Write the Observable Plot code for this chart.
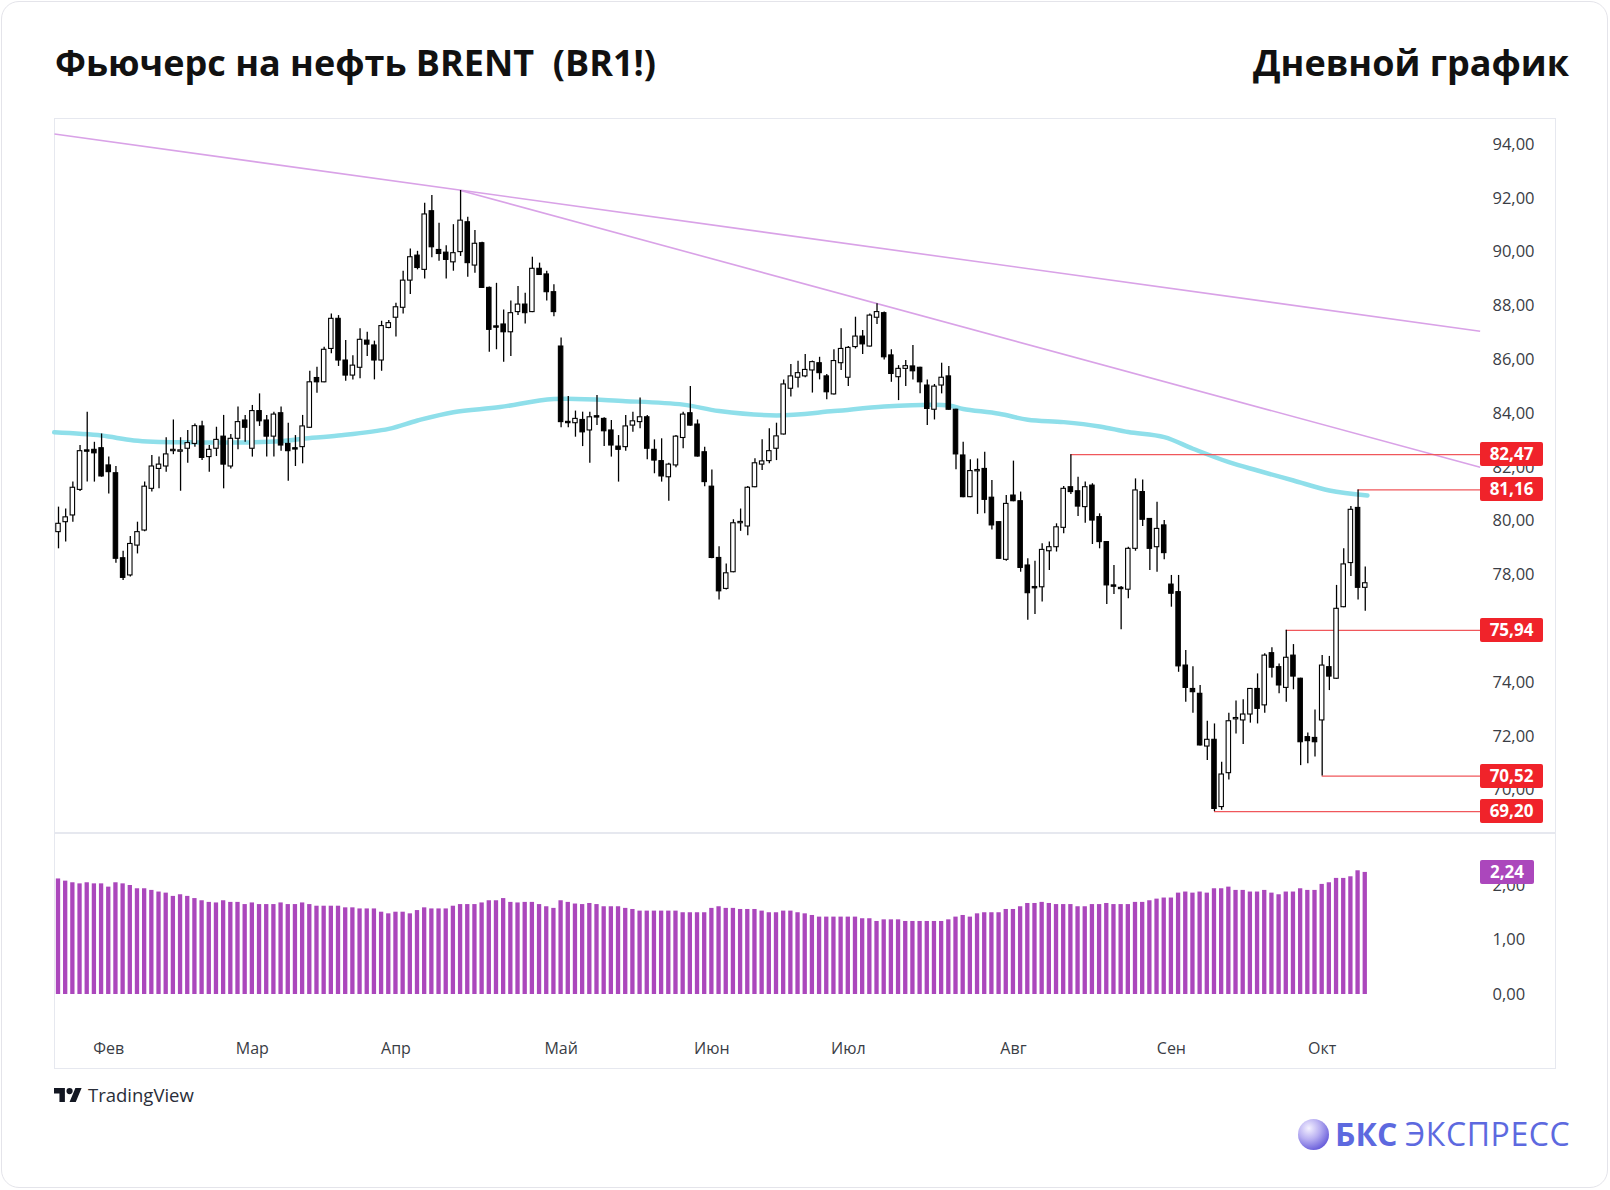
<!DOCTYPE html>
<html><head><meta charset="utf-8">
<script src="https://cdn.jsdelivr.net/npm/d3@7"></script>
<script src="https://cdn.jsdelivr.net/npm/@observablehq/plot@0.6"></script>
<style>
html,body{margin:0;padding:0;background:#fff;}
#page{position:relative;width:1610px;height:1190px;overflow:hidden;font-family:"Open Sans","Noto Sans",sans-serif;background:#fff;}
.card{position:absolute;left:1px;top:1px;width:1607px;height:1187px;border:1.5px solid #e4e4ea;border-radius:18px;box-sizing:border-box;}
.title{position:absolute;top:39px;font-weight:700;font-size:36px;color:#111;line-height:48px;white-space:pre;}
.frame{position:absolute;left:54px;top:118px;width:1502px;height:951px;border:1.5px solid #e6e8ef;box-sizing:border-box;}
.sep{position:absolute;left:54px;top:832px;width:1502px;height:2px;background:#e6e8ef;}
.panel{position:absolute;left:54px;}
.tag{position:absolute;left:1480px;height:24px;line-height:24px;color:#fff;font-weight:700;font-size:17px;text-align:center;border-radius:2px;font-family:"Open Sans",sans-serif;}
.tv{position:absolute;left:88px;top:1081px;font-size:18.5px;color:#2a2e39;line-height:28px;}
.bks{position:absolute;top:1112px;font-size:32px;line-height:44px;color:#5d69df;white-space:pre;}
</style></head>
<body><div id="page">
<div class="card"></div>
<div class="title" style="left:55px">Фьючерс на нефть BRENT  (BR1!)</div>
<div class="title" style="right:41px">Дневной график</div>
<div class="frame"></div>
<div class="sep"></div>
<div id="price" class="panel" style="top:118px"></div>
<div id="vol" class="panel" style="top:833px"></div>
<svg style="position:absolute;left:54px;top:1088px" width="28" height="14" viewBox="0 4 36 18"><path d="M14 22H7V11H0V4h14v18zM28 22h-8l7.5-18h8L28 22z" fill="#131722"/><circle cx="20" cy="8" r="4" fill="#131722"/></svg>
<div class="tv">TradingView</div>
<svg style="position:absolute;left:1297px;top:1118px" width="33" height="33"><defs><radialGradient id="g" cx="0.35" cy="0.3" r="0.8"><stop offset="0" stop-color="#f4f1ff"/><stop offset="0.45" stop-color="#b9b0f2"/><stop offset="1" stop-color="#5a4fd6"/></radialGradient></defs><circle cx="16.5" cy="16.5" r="15.5" fill="url(#g)"/></svg>
<div class="bks" style="left:1335px;font-weight:700;">БКС</div>
<div class="bks" style="left:1405px;letter-spacing:0.6px;">ЭКСПРЕСС</div>
</div>
<script>
// ---- data ----
const open = [79.59,79.96,80.21,81.16,82.62,82.65,82.71,82.07,81.78,78.62,
77.98,79.09,79.65,81.20,81.94,82.03,82.60,82.58,82.69,82.87,
83.52,82.38,82.69,83.14,82.03,83.06,83.74,82.69,84.09,83.74,
83.14,84.01,82.87,82.68,82.75,83.47,85.32,85.16,86.40,87.52,
85.97,85.41,85.70,86.71,86.53,85.97,87.18,87.56,87.93,88.94,
89.87,89.34,91.52,90.08,89.98,89.62,90.00,91.11,89.50,90.33,
88.67,87.21,87.31,87.02,87.77,88.05,87.77,89.38,89.17,88.51,
86.49,83.66,83.64,83.76,83.37,83.87,83.80,83.37,82.77,82.75,
83.55,83.68,83.86,82.65,82.23,81.63,82.07,83.09,84.01,83.59,
82.56,81.28,78.63,77.48,78.10,79.92,79.80,81.26,82.10,82.23,
82.69,83.22,84.92,85.33,85.38,85.60,85.87,85.38,84.71,85.87,
85.33,86.47,86.86,86.49,87.56,87.73,86.16,85.35,85.66,85.75,
85.70,85.04,84.14,85.04,85.38,84.14,82.44,80.89,81.85,81.94,
80.87,79.96,78.56,80.95,80.74,78.35,77.52,77.54,78.88,79.03,
79.75,81.26,81.11,80.52,81.32,80.15,79.22,77.58,77.49,77.45,
78.97,81.08,80.08,79.03,79.84,77.64,77.36,74.63,73.76,73.58,
71.62,71.87,69.37,70.63,72.63,72.59,72.81,73.76,73.15,75.09,
74.57,73.80,75.00,74.14,71.97,71.94,72.59,74.57,74.14,76.80,
78.44,80.49,77.52];
const high = [80.52,80.45,81.45,82.81,84.05,82.93,83.24,82.38,82.03,78.88,
79.43,79.96,81.45,82.44,82.38,83.10,83.76,83.10,83.37,83.61,
83.71,82.81,83.49,83.93,83.22,84.24,83.93,84.30,84.73,83.93,
84.05,84.24,83.64,83.18,83.93,85.57,85.72,86.46,87.70,87.64,
86.71,86.15,87.15,87.02,86.69,87.43,87.46,88.10,89.29,90.12,
90.03,91.82,92.10,91.07,90.24,91.02,92.29,91.30,90.80,90.37,
88.70,88.84,87.85,88.18,88.72,88.47,89.81,89.59,89.29,88.79,
86.81,84.63,84.09,84.05,84.05,84.67,83.84,83.74,83.18,83.93,
84.05,84.58,83.93,83.02,83.06,82.15,83.18,84.05,85.00,83.76,
82.75,81.90,79.05,78.41,80.05,80.45,81.29,82.32,83.02,83.43,
83.64,85.25,85.82,85.94,86.19,85.95,86.09,85.45,86.37,87.15,
86.49,87.58,87.09,87.70,88.08,87.77,86.37,85.78,85.97,86.53,
85.72,85.25,85.08,85.87,85.75,84.16,82.93,82.28,82.31,82.56,
81.51,79.98,80.95,82.23,81.08,78.60,78.51,79.16,79.22,79.90,
81.29,82.47,81.63,81.45,81.39,80.27,79.24,78.35,77.57,79.03,
81.57,81.53,80.10,80.70,80.02,77.98,77.98,75.19,74.59,73.89,
72.56,72.46,71.04,72.86,73.31,73.36,73.78,74.32,75.07,75.29,
74.69,75.94,75.41,74.16,72.12,72.98,75.00,74.97,77.61,78.97,
80.54,81.16,78.29];
const low = [78.97,79.22,79.96,81.10,81.45,81.45,81.63,81.01,78.43,77.79,
77.92,78.78,79.60,81.08,81.20,81.82,82.47,81.11,82.15,82.75,
82.25,81.82,82.40,81.20,81.94,82.65,82.93,82.38,83.52,82.38,
82.38,82.60,81.48,82.03,82.13,83.45,84.75,85.14,86.22,85.75,
85.20,85.25,85.29,86.12,85.25,85.57,87.15,86.84,87.70,88.42,
89.34,89.00,89.79,89.66,89.00,89.29,89.84,89.07,89.21,88.65,
86.28,86.37,85.91,86.12,87.64,87.33,87.75,89.13,88.18,87.60,
83.47,83.47,83.12,82.77,82.15,83.55,82.77,82.38,81.45,82.60,
83.30,83.43,82.28,81.76,81.45,80.74,81.98,82.69,83.53,82.38,
81.28,78.60,77.07,77.44,78.08,79.62,79.46,81.24,81.88,82.13,
82.25,83.20,84.61,84.95,85.33,84.76,85.25,84.51,84.69,85.60,
85.00,86.40,86.19,86.47,87.31,85.99,85.16,84.48,85.00,85.25,
84.73,83.55,83.76,84.73,84.12,81.91,80.87,80.87,80.25,80.27,
79.67,78.58,78.51,80.72,78.10,76.31,76.53,76.99,78.16,78.85,
79.53,80.99,80.17,79.92,79.13,78.97,76.90,77.27,75.96,77.11,
78.88,79.80,78.16,78.10,78.56,76.80,74.38,73.27,72.86,71.64,
71.10,69.20,69.25,70.38,72.09,71.70,72.49,72.46,72.86,74.17,
73.58,73.27,73.73,70.91,70.98,71.23,70.52,73.70,74.12,76.78,
77.94,77.07,76.65];
const close = [79.90,80.14,81.24,82.60,82.58,82.52,81.66,81.82,78.60,77.89,
79.15,79.59,81.28,82.03,82.10,82.48,82.62,82.60,82.90,83.53,
82.35,82.65,83.02,82.10,83.06,83.68,83.47,84.09,83.71,83.14,
83.96,82.81,82.60,82.66,83.52,85.16,85.16,86.37,87.52,85.97,
85.41,85.78,86.74,86.56,85.97,87.25,87.36,87.95,88.94,89.81,
89.41,91.40,90.18,89.93,89.71,89.96,91.17,89.59,90.31,88.67,
87.11,87.19,87.02,87.73,88.05,87.73,89.38,89.15,88.51,87.77,
83.68,83.64,83.80,83.30,83.86,83.85,83.34,82.81,82.65,83.52,
83.71,83.86,82.69,82.25,81.66,82.10,83.14,83.96,83.55,82.40,
81.45,78.63,77.39,78.06,79.92,79.94,81.24,82.15,82.22,82.60,
83.15,85.08,85.38,85.50,85.62,85.91,85.50,84.79,85.95,86.40,
86.44,86.86,86.57,87.64,87.77,86.09,85.47,85.66,85.76,85.57,
85.16,84.17,85.00,85.33,84.14,82.48,80.89,81.86,81.87,80.79,
79.84,78.60,80.64,80.74,78.26,77.32,77.50,78.93,79.03,79.77,
81.20,81.08,80.54,81.26,80.02,79.22,77.61,77.56,77.47,78.97,
81.14,80.05,78.97,79.71,78.81,77.30,74.60,73.80,73.64,71.66,
71.87,69.30,70.58,72.56,72.65,72.81,73.76,73.02,75.00,74.55,
73.89,74.92,74.22,71.78,71.82,71.78,74.63,74.22,76.74,78.39,
80.42,77.52,77.69];
// lower-panel indicator (histogram)
const indicator = [2.12,2.08,2.05,2.03,2.05,2.03,2.03,1.97,2.05,2.03,
2.00,1.94,1.94,1.91,1.88,1.86,1.80,1.83,1.80,1.76,
1.72,1.69,1.68,1.72,1.69,1.69,1.65,1.68,1.65,1.65,
1.65,1.68,1.65,1.65,1.68,1.65,1.62,1.62,1.62,1.62,
1.59,1.59,1.57,1.57,1.57,1.51,1.48,1.51,1.51,1.48,
1.54,1.59,1.57,1.57,1.57,1.62,1.65,1.65,1.65,1.68,
1.72,1.72,1.76,1.69,1.68,1.69,
1.69,1.65,1.61,1.58,1.72,1.69,1.66,1.65,1.67,1.65,
1.61,1.61,1.61,1.58,1.56,1.53,1.53,1.53,1.53,1.53,
1.53,1.50,1.50,1.50,1.50,1.58,1.61,1.58,1.58,1.56,
1.56,1.56,1.53,1.50,1.50,1.53,1.53,1.50,1.48,1.45,
1.42,1.42,1.42,1.42,1.42,1.42,1.39,1.39,1.34,1.37,
1.37,1.37,1.34,1.34,1.34,1.34,1.34,1.34,1.37,1.42,
1.45,1.42,1.48,1.50,1.50,1.50,1.56,1.56,1.61,1.67,
1.67,1.69,1.67,1.65,1.65,1.65,1.61,1.61,1.65,1.65,
1.67,1.65,1.65,1.65,1.69,1.69,1.72,1.75,1.77,1.77,
1.86,1.88,1.86,1.88,1.86,1.94,1.94,1.97,1.91,1.91,
1.88,1.88,1.91,1.86,1.83,1.88,1.88,1.94,1.91,1.91,
2.02,2.05,2.13,2.13,2.16,2.27,2.24];
// moving average (cyan), read at bar positions
const maIdx = [-0.6,6,10.5,17,31,34,39,46,50,55,61.5,69,79,87,92,100,108,115,124,126,131,135,140,145,149,154,158,163,167,172,177,182.3];
const maVal = [83.30,83.18,83.00,82.93,82.97,83.06,83.18,83.43,83.74,84.05,84.24,84.54,84.46,84.33,84.09,83.93,84.09,84.26,84.30,84.17,83.99,83.77,83.68,83.52,83.31,83.12,82.69,82.19,81.88,81.51,81.14,80.95];
// trend lines (bar index / price anchors)
const trendX1 = [-0.56, 56], trendY1 = [94.39, 92.29];
const trendX2 = [198, 198],  trendY2 = [87.06, 82.00];
// horizontal levels: price and the bar where each starts
const levelPrice = [82.47, 81.16, 75.94, 70.52, 69.20];
const levelFrom  = [141, 181, 171, 176, 161];
const lastIndicator = 2.24;
// axes
const priceTicks = [70,72,74,76,78,80,82,84,86,88,90,92,94];
const indTicks = [0,1,2];
const monthIdx = [7,27,47,70,91,110,133,155,176];
const monthLabels = ["Фев","Мар","Апр","Май","Июн","Июл","Авг","Сен","Окт"];

// ---- build ----
const fmt = d => d.toFixed(2).replace(".", ",");
const candles = open.map((o,i)=>({i, o, h:high[i], l:low[i], c:close[i]}));
const up = candles.filter(d => d.c >= d.o), down = candles.filter(d => d.c < d.o);
const bodyLo = d => Math.min(d.o, d.c), bodyHi = d => Math.max(Math.max(d.o, d.c), Math.min(d.o, d.c) + 0.05);
const maPts = maIdx.map((x,k)=>({x, v: maVal[k]}));
const trends = trendX1.map((x,k)=>({x1:x, y1:trendY1[k], x2:trendX2[k], y2:trendY2[k]}));
const levels = levelPrice.map((p,k)=>({p, from: levelFrom[k]}));
const bars = indicator.map((v,i)=>({i, v}));
const xDomain = [-0.557, 198.05];
const font = "'Open Sans','Noto Sans',sans-serif";

const priceChart = Plot.plot({
  width: 1502, height: 715, marginLeft: 0, marginRight: 76, marginTop: 0, marginBottom: 0,
  style: {background: "transparent", overflow: "visible", fontFamily: font},
  x: {domain: xDomain, axis: null},
  y: {domain: [68.387, 94.967], axis: null},
  marks: [
    Plot.axisY(priceTicks, {anchor: "right", tickSize: 0, tickPadding: 12, tickFormat: fmt, fontSize: 16.5, fill: "#3a3d45", label: null}),
    Plot.line(maPts, {x: "x", y: "v", curve: "catmull-rom", stroke: "#8fdfea", strokeWidth: 4.5}),
    Plot.link(trends, {x1: "x1", y1: "y1", x2: "x2", y2: "y2", stroke: "#d9a2e7", strokeWidth: 1.6}),
    Plot.ruleY(levels, {y: "p", x1: "from", x2: xDomain[1], stroke: "#f0575b", strokeWidth: 1.3}),
    Plot.ruleX(candles, {x: "i", y1: "l", y2: "h", stroke: "#000", strokeWidth: 1.3}),
    Plot.rect(up, {x1: d => d.i - 0.31, x2: d => d.i + 0.31, y1: bodyLo, y2: bodyHi, fill: "#fff", stroke: "#000", strokeWidth: 1.1}),
    Plot.rect(down, {x1: d => d.i - 0.31, x2: d => d.i + 0.31, y1: bodyLo, y2: bodyHi, fill: "#000", stroke: "#000", strokeWidth: 1.1})
  ]
});
document.getElementById("price").appendChild(priceChart);

const volChart = Plot.plot({
  width: 1502, height: 236, marginLeft: 0, marginRight: 76, marginTop: 0, marginBottom: 75,
  style: {background: "transparent", overflow: "visible", fontFamily: font},
  x: {domain: xDomain, axis: null},
  y: {domain: [0, 2.954], axis: null},
  marks: [
    Plot.axisY(indTicks, {anchor: "right", tickSize: 0, tickPadding: 12, tickFormat: fmt, fontSize: 16.5, fill: "#3a3d45", label: null}),
    Plot.axisX(monthIdx, {anchor: "bottom", tickSize: 0, tickPadding: 48, tickFormat: d => monthLabels[monthIdx.indexOf(d)], fontSize: 16, fill: "#3a3d45", label: null}),
    Plot.rect(bars, {x1: d => d.i - 0.3, x2: d => d.i + 0.3, y1: 0, y2: "v", fill: "#ab47bc"})
  ]
});
document.getElementById("vol").appendChild(volChart);

// value tags on the right scale, positioned with the plot's own scales
const page = document.getElementById("page");
function tag(top, text, color, width) {
  const el = document.createElement("div");
  el.className = "tag";
  el.style.top = (top - 12) + "px";
  el.style.width = width + "px";
  el.style.background = color;
  el.textContent = text;
  page.appendChild(el);
}
const ys = priceChart.scale("y"), yv = volChart.scale("y");
const apply = (s, v) => s.apply ? s.apply(v) : s.range[0] + (v - s.domain[0]) / (s.domain[1] - s.domain[0]) * (s.range[1] - s.range[0]);
levelPrice.forEach(p => tag(118 + apply(ys, p), fmt(p), "#f0232a", 63));
tag(833 + apply(yv, lastIndicator), fmt(lastIndicator), "#ab47bc", 54);
</script>
</body></html>
